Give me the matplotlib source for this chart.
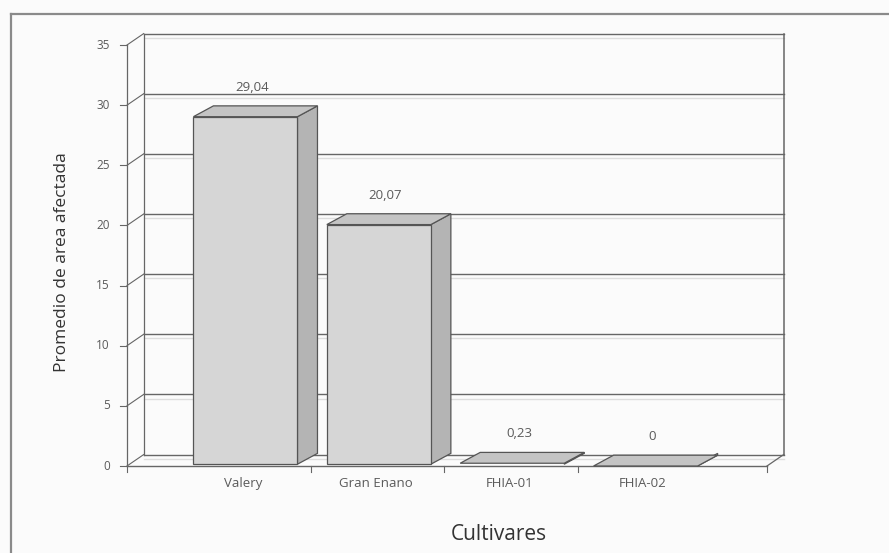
import matplotlib
matplotlib.use("Agg")
import matplotlib.pyplot as plt
from matplotlib.patches import Polygon
from matplotlib.lines import Line2D

plt.rcParams['font.family'] = ['Open Sans', 'DejaVu Sans']

# datos
cultivares = ['Valery', 'Gran Enano', 'FHIA-01', 'FHIA-02']
promedio = [29.04, 20.07, 0.23, 0]
etiquetas = ['29,04', '20,07', '0,23', '0']
marcas_y = [0, 5, 10, 15, 20, 25, 30, 35]

# profundidad del efecto 3D (en unidades de datos)
PROF = (0.125, 0.95)      # pared del fondo respecto al frente
FRENTE_BARRA = (0.01, 0.15)
PROF_BARRA = (0.15, 0.9)
ANCHO = 0.78

BORDE = '#555555'
LINEA = '#666666'
TEXTO = '#5a5a5a'


def caja(ax, xc, alto):
    """ dibuja una barra con cara frontal, superior y lateral """
    x0 = xc - ANCHO / 2 + FRENTE_BARRA[0]
    x1 = x0 + ANCHO
    y0 = FRENTE_BARRA[1]
    y1 = alto
    dx, dy = PROF_BARRA
    lateral = [(x1, y0), (x1 + dx, y0 + dy), (x1 + dx, y1 + dy), (x1, y1)]
    superior = [(x0, y1), (x1, y1), (x1 + dx, y1 + dy), (x0 + dx, y1 + dy)]
    frontal = [(x0, y0), (x1, y0), (x1, y1), (x0, y1)]
    ax.add_patch(Polygon(lateral, closed=True, fc='#b4b4b4', ec=BORDE, lw=0.9, clip_on=False, zorder=3))
    ax.add_patch(Polygon(superior, closed=True, fc='#c4c4c4', ec=BORDE, lw=0.9, clip_on=False, zorder=3))
    if alto > 0.5:
        ax.add_patch(Polygon(frontal, closed=True, fc='#d6d6d6', ec=BORDE, lw=0.9, clip_on=False, zorder=4))
    return x0, x1, y1 + dy


fig = plt.figure(figsize=(8.89, 5.53), dpi=100, facecolor='#fbfbfb')

# marco exterior
fig.add_artist(Line2D([11 / 889, 11 / 889], [0, 1 - 14 / 553], color='#8a8a8a', lw=1.6))
fig.add_artist(Line2D([11 / 889, 1], [1 - 14 / 553, 1 - 14 / 553], color='#8a8a8a', lw=1.6))

ax = fig.add_axes([127 / 889, 87 / 553, 640 / 889, 421 / 553])
ax.set_facecolor('none')
ax.set_xlim(-0.878, 3.92)
ax.set_ylim(0, 35)
ax.axis('off')

xmin, xmax = ax.get_xlim()
dx, dy = PROF

# pared del fondo con lineas de division
for v in marcas_y:
    ax.plot([xmin + dx, xmax + dx], [v + dy, v + dy], color=LINEA, lw=1.0, clip_on=False, zorder=1)
    ax.plot([xmin + dx, xmax + dx], [v + dy - 0.35, v + dy - 0.35], color='#dddddd', lw=1.0, clip_on=False, zorder=1)
    # pared izquierda
    ax.plot([xmin, xmin + dx], [v, v + dy], color=LINEA, lw=0.8, clip_on=False, zorder=1)
    # marca del eje y
    ax.plot([xmin - 0.05, xmin], [v, v], color=LINEA, lw=0.8, clip_on=False, zorder=1)
    ax.text(xmin - 0.13, v, str(v), ha='right', va='center', fontsize=8.5, color=TEXTO)

ax.plot([xmin, xmin], [0, 35], color=LINEA, lw=0.9, clip_on=False, zorder=1)
ax.plot([xmin + dx, xmin + dx], [dy, 35 + dy], color=LINEA, lw=0.9, clip_on=False, zorder=1)
ax.plot([xmax + dx, xmax + dx], [dy, 35 + dy], color=LINEA, lw=1.1, clip_on=False, zorder=1)

# piso
ax.plot([xmin, xmax], [0, 0], color=LINEA, lw=1.0, clip_on=False, zorder=2)
ax.plot([xmax, xmax + dx], [0, dy], color=LINEA, lw=0.9, clip_on=False, zorder=2)
for xt in [xmin, 0.5, 1.5, 2.5, xmax]:
    ax.plot([xt, xt], [0, -0.5], color=LINEA, lw=0.8, clip_on=False, zorder=2)

# barras y etiquetas de valor
for i, (nombre, valor, etiqueta) in enumerate(zip(cultivares, promedio, etiquetas)):
    x0, x1, ytop = caja(ax, i, valor)
    ax.text(i + 0.06, ytop + 1.0, etiqueta, ha='center', va='bottom', fontsize=9.5, color=TEXTO)
    ax.text(i - 0.01, -0.9, nombre, ha='center', va='top', fontsize=9.5, color=TEXTO)

fig.text(499 / 889, 1 - 535 / 553, 'Cultivares', ha='center', va='center', fontsize=15, color='#333333')
fig.text(62 / 889, 1 - 262 / 553, 'Promedio de area afectada', rotation=90, ha='center', va='center',
         fontsize=12.5, color='#333333')

fig.savefig('out.png', dpi=100, facecolor=fig.get_facecolor())
